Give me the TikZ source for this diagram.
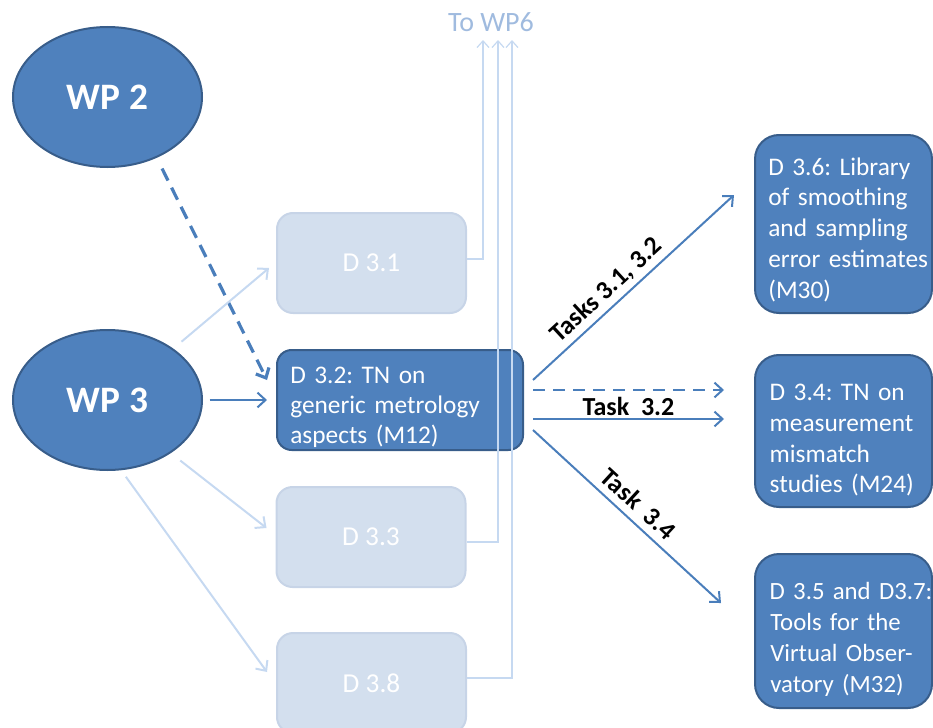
\documentclass[tikz,border=0pt]{standalone}
\usepackage{fontspec}
\setmainfont{Carlito}
\usetikzlibrary{arrows.meta,shapes.geometric,calc}
\definecolor{dkfill}{HTML}{4F81BD}
\definecolor{dkline}{HTML}{385D8A}
\definecolor{ltfill}{HTML}{D3DFEE}
\definecolor{ltline}{HTML}{C7D4E7}
\definecolor{arrblue}{HTML}{4A7EBB}
\definecolor{ltarr}{HTML}{C6D9F1}
\definecolor{wpsix}{HTML}{A0BBDF}
\frenchspacing
\begin{document}
\begin{tikzpicture}[x=0.75pt,y=-0.75pt,
  wp/.style={ellipse, fill=dkfill, draw=dkline, line width=1.5pt, minimum width=141.75pt, minimum height=105pt, inner sep=0pt, text=white, font=\fontsize{28}{30}\selectfont\bfseries},
  ltbox/.style={rectangle, rounded corners=12pt, fill=ltfill, draw=ltline, line width=1.5pt, minimum width=141.75pt, minimum height=75pt, text=white, font=\fontsize{20.5}{24}\selectfont},
  dkbox/.style={rectangle, rounded corners=11pt, fill=dkfill, draw=dkline, line width=1.5pt, minimum height=75pt, inner xsep=10pt, inner ysep=0pt, text=white, align=left, font=\fontsize{19}{22.5}\selectfont},
  rtbox/.style={rectangle, rounded corners=18pt, fill=dkfill, draw=dkline, line width=1.5pt, text width=112.75pt, inner xsep=10pt, inner ysep=0pt, text=white, align=left, font=\fontsize{19}{23.2}\selectfont},
  arr/.style={draw=arrblue, line width=1.5pt, -{Straight Barb[length=6pt,width=11pt]}},
  ltarrow/.style={draw=ltarr, line width=1.5pt, -{Straight Barb[length=6pt,width=11pt]}},
  uparr/.style={draw=ltarr, line width=0.9pt, -{Straight Barb[length=5pt,width=9pt]}},
  lbl/.style={text=black, font=\fontsize{19.5}{22}\selectfont\bfseries}
]
\useasboundingbox (0,0) rectangle (933,728);

% work packages
\node[wp] (wp2) at (107.5,97) {WP 2};
\node[wp] (wp3) at (107.5,400) {WP 3};

% deliverables, middle column
\node[ltbox] (d31) at (371.5,263) {D 3.1};
\node[dkbox, text width=164.5pt] (d32) at (400,400) {\rule{0pt}{23pt}\mbox{D 3.2: TN on}\\\mbox{generic metrology}\\\mbox{aspects (M12)}};
\node[ltbox] (d33) at (371,537) {D 3.3};
\node[ltbox] (d38) at (371.5,683) {D 3.8};

% deliverables, right column
\node[rtbox, minimum height=133.5pt] (d36) at (843.5,224) {\rule{0pt}{22pt}\mbox{D 3.6: Library}\\\mbox{of smoothing}\\\mbox{and sampling}\\\mbox{error estimates}\\\mbox{(M30)}};
\node[rtbox, minimum height=114pt] (d34) at (843.5,431) {\rule{0pt}{26pt}\mbox{\hspace{1pt}D 3.4: TN on}\\\mbox{\hspace{1pt}measurement}\\\mbox{\hspace{1pt}mismatch}\\\mbox{\hspace{1pt}studies (M24)}};
\node[rtbox, minimum height=115.5pt, font=\fontsize{18.6}{23.2}\selectfont] (d35) at (843.5,631) {\rule{0pt}{26pt}\mbox{\hspace{1pt}D 3.5 and D3.7:}\\\mbox{\hspace{1.5pt}Tools for the}\\\mbox{\hspace{1.5pt}Virtual Obser-}\\\mbox{\hspace{1.5pt}vatory (M32)}};

% To WP6
\node[text=wpsix, font=\fontsize{21}{24}\selectfont] (towp6) at (491,22) {To WP6};
\coordinate (u1) at (483,40);
\coordinate (u2) at (498,40);
\coordinate (u3) at (512,40);
\draw[uparr] ([yshift=3pt]d31.east) -| (u1);
\draw[uparr] ([yshift=-3.75pt]d33.east) -| (u2);
\draw[uparr] ([yshift=3.75pt]d38.east) -| (u3);

% inputs
\draw[draw=arrblue, line width=2.4pt, dash pattern=on 10pt off 6pt, -{Straight Barb[length=6pt,width=11pt]}, shorten <=9pt] (wp2.-51) -- ([shift={(-9,-20)}]d32.west);
\draw[arr, shorten <=5pt, shorten >=6.75pt] (wp3.east) -- (d32.west);
\draw[ltarrow, shorten <=8pt] (wp3.38) -- ([shift={(-7,5)}]d31.west);
\draw[ltarrow, shorten <=9pt] (wp3.-40) -- ([shift={(-9,-9)}]d33.west);
\draw[ltarrow, shorten <=6pt] (wp3.-79) -- ([shift={(-9,-11)}]d38.west);

% outputs
\draw[arr] ([shift={(9,-20)}]d32.east) -- node[lbl, pos=0.42, above, sloped] {Tasks 3.1, 3.2} ([shift={(-20,-29)}]d36.west);
\draw[arr, dash pattern=on 9pt off 6pt] ([shift={(9,-10)}]d32.east) -- ([shift={(-30,-41)}]d34.west);
\draw[arr] ([shift={(9,19)}]d32.east) -- node[lbl, midway, above, inner sep=1.5pt] {Task\ \ 3.2} ([shift={(-30,-12)}]d34.west);
\draw[arr] ([shift={(9,30)}]d32.east) -- node[lbl, pos=0.5, above=2pt, sloped] {Task\ \ 3.4} ([shift={(-33,-28)}]d35.west);
\end{tikzpicture}
\end{document}
